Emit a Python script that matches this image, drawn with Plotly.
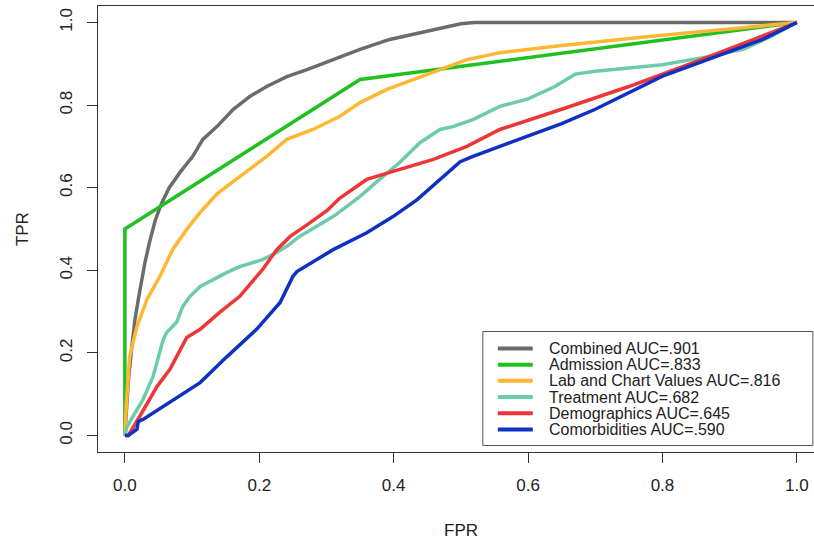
import plotly.graph_objects as go

# ---------------- data ----------------
series_names = ["Combined AUC=.901", "Admission AUC=.833", "Lab and Chart Values AUC=.816",
                "Treatment AUC=.682", "Demographics AUC=.645", "Comorbidities AUC=.590"]
series_colors = ["#6B6B6B", "#1FC01F", "#FFB733", "#6CCBA8", "#EE3636", "#1030C4"]

combined_fpr = [0, 0.002, 0.005, 0.010, 0.015, 0.020, 0.025, 0.030, 0.037, 0.045, 0.054, 0.066,
                0.082, 0.101, 0.116, 0.137, 0.161, 0.186, 0.211, 0.241, 0.271, 0.310, 0.350, 0.394,
                0.439, 0.479, 0.500, 0.520, 1.0]
combined_tpr = [0, 0.06, 0.13, 0.21, 0.28, 0.33, 0.38, 0.42, 0.47, 0.52, 0.56, 0.60, 0.637, 0.676,
                0.717, 0.748, 0.789, 0.821, 0.845, 0.869, 0.886, 0.910, 0.935, 0.959, 0.975, 0.990,
                0.997, 1.0, 1.0]

admission_fpr = [0, 0, 0.35, 1.0]
admission_tpr = [0, 0.50, 0.862, 1.0]

lab_fpr = [0, 0.002, 0.007, 0.018, 0.033, 0.052, 0.071, 0.092, 0.112, 0.137, 0.171, 0.211, 0.241,
           0.280, 0.320, 0.350, 0.390, 0.429, 0.469, 0.509, 0.558, 0.647, 0.780, 0.930, 1.0]
lab_tpr = [0, 0.07, 0.19, 0.264, 0.33, 0.385, 0.45, 0.499, 0.54, 0.585, 0.627, 0.676, 0.717,
           0.741, 0.773, 0.806, 0.838, 0.862, 0.886, 0.910, 0.927, 0.944, 0.966, 0.99, 1.0]

treatment_fpr = [0, 0.003, 0.012, 0.027, 0.042, 0.057, 0.062, 0.077, 0.086, 0.097, 0.112, 0.122,
                 0.152, 0.171, 0.205, 0.226, 0.241, 0.260, 0.286, 0.310, 0.330, 0.350, 0.379, 0.409,
                 0.439, 0.469, 0.488, 0.518, 0.558, 0.600, 0.640, 0.670, 0.700, 0.740, 0.800, 0.860,
                 0.920, 0.960, 1.0]
treatment_tpr = [0, 0.02, 0.046, 0.087, 0.143, 0.232, 0.249, 0.274, 0.312, 0.337, 0.361, 0.37,
                 0.395, 0.409, 0.426, 0.443, 0.458, 0.482, 0.506, 0.530, 0.554, 0.579, 0.620, 0.661,
                 0.709, 0.741, 0.748, 0.765, 0.797, 0.815, 0.845, 0.875, 0.882, 0.888, 0.898, 0.915,
                 0.935, 0.965, 1.0]

demographics_fpr = [0, 0.005, 0.022, 0.048, 0.067, 0.092, 0.112, 0.141, 0.171, 0.205, 0.226, 0.246,
                    0.271, 0.301, 0.320, 0.360, 0.394, 0.458, 0.509, 0.558, 0.650, 0.750, 0.850,
                    0.950, 1.0]
demographics_tpr = [0, 0.0, 0.046, 0.119, 0.16, 0.237, 0.257, 0.298, 0.337, 0.402, 0.45, 0.482,
                    0.510, 0.545, 0.575, 0.620, 0.637, 0.668, 0.700, 0.741, 0.790, 0.845, 0.905,
                    0.968, 1.0]

comorbid_fpr = [0, 0.005, 0.018, 0.020, 0.027, 0.057, 0.112, 0.152, 0.196, 0.231, 0.250, 0.256,
                0.310, 0.360, 0.399, 0.435, 0.473, 0.499, 0.518, 0.558, 0.600, 0.650, 0.700, 0.750,
                0.800, 0.850, 0.900, 0.950, 1.0]
comorbid_tpr = [0, 0.0, 0.015, 0.034, 0.039, 0.07, 0.128, 0.191, 0.257, 0.322, 0.385, 0.397,
                0.45, 0.491, 0.530, 0.571, 0.627, 0.663, 0.676, 0.700, 0.725, 0.755, 0.79, 0.83,
                0.87, 0.90, 0.93, 0.96, 1.0]

tick_vals = [0.0, 0.2, 0.4, 0.6, 0.8, 1.0]
tick_text = ["0.0", "0.2", "0.4", "0.6", "0.8", "1.0"]

curves = [(combined_fpr, combined_tpr), (admission_fpr, admission_tpr), (lab_fpr, lab_tpr),
          (treatment_fpr, treatment_tpr), (demographics_fpr, demographics_tpr),
          (comorbid_fpr, comorbid_tpr)]

# ---------------- figure ----------------
FONT = "Liberation Sans, Arial, Helvetica, sans-serif"
fig = go.Figure()
for (fx, ty), name, col in zip(curves, series_names, series_colors):
    fig.add_trace(go.Scatter(x=fx, y=ty, mode="lines", name=name,
                             line=dict(color=col, width=3.5), showlegend=False))

# manual legend (R-style compact legend box)
leg_x0, leg_x1, leg_y0, leg_y1 = 0.5327, 1.0238, -0.0242, 0.2518
shapes = [dict(type="rect", xref="x", yref="y", x0=leg_x0, x1=leg_x1, y0=leg_y0, y1=leg_y1,
               line=dict(color="#555555", width=1), fillcolor="white", layer="above")]
annotations = []
row0, row_step = 0.2107, 0.0392
for i, (name, col) in enumerate(zip(series_names, series_colors)):
    yy = row0 - i * row_step
    shapes.append(dict(type="line", xref="x", yref="y", x0=0.555, x1=0.607, y0=yy, y1=yy,
                       line=dict(color=col, width=4), layer="above"))
    annotations.append(dict(x=0.628, y=yy, xref="x", yref="y", text=name, showarrow=False,
                            xanchor="left", yanchor="middle",
                            font=dict(family=FONT, size=16, color="#222222")))

annotations.append(dict(x=-0.106, y=0.5, xref="paper", yref="paper", text="TPR", showarrow=False,
                        textangle=-90, xanchor="center", yanchor="middle",
                        font=dict(family=FONT, size=17, color="#222222")))
annotations.append(dict(x=0.507, y=-0.175, xref="paper", yref="paper", text="FPR", showarrow=False,
                        xanchor="center", yanchor="middle",
                        font=dict(family=FONT, size=17, color="#222222")))

fig.update_layout(
    width=814, height=542,
    margin=dict(l=98, r=0, t=6, b=90, autoexpand=False),
    paper_bgcolor="white", plot_bgcolor="white",
    shapes=shapes, annotations=annotations,
    showlegend=False,
)
axis_common = dict(showgrid=False, zeroline=False, showline=True, linecolor="#333333", linewidth=1,
                   ticks="outside", ticklen=10, tickwidth=1, tickcolor="#333333",
                   tickvals=tick_vals, ticktext=tick_text, automargin=False,
                   tickfont=dict(family=FONT, size=17, color="#222222"))
fig.update_xaxes(range=[-0.04, 1.0255], mirror=True, ticklabelstandoff=8, **axis_common)
fig.update_yaxes(range=[-0.04, 1.04], mirror=False, tickangle=-90, ticklabelstandoff=8, **axis_common)

fig.write_html("out.html", config={"displayModeBar": False},
               post_script="document.body.style.margin='0';document.body.style.overflow='hidden';")
